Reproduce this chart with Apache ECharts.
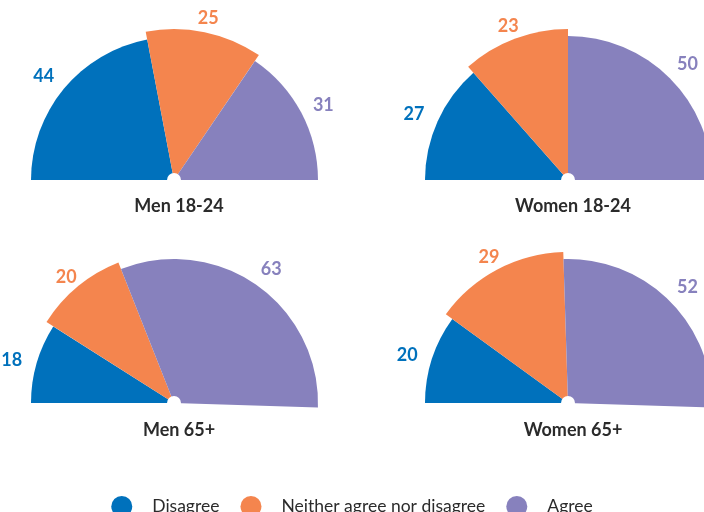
<!DOCTYPE html>
<html>
<head>
<meta charset="utf-8">
<script src="https://cdn.jsdelivr.net/npm/echarts@6/dist/echarts.min.js"></script>
<style>
  html, body { margin: 0; padding: 0; background: #fff; }
  #chart { width: 704px; height: 512px; }
</style>
</head>
<body>
<div id="chart"></div>
<script>
// 数据
const categories = ['Disagree', 'Neither agree nor disagree', 'Agree']
const panelNames = ['Men 18-24', 'Women 18-24', 'Men 65+', 'Women 65+']
const men1824 = [44, 25, 31]
const women1824 = [27, 23, 50]
const men65 = [18, 20, 63]
const women65 = [20, 29, 52]
const panelValues = [men1824, women1824, men65, women65]

// 样式与布局
const colors = ['#0071bc', '#f4854e', '#8781bd']
const centers = [[174, 180], [568, 180], [174, 403], [568, 403]]
const titleTops = [192, 192, 416, 416]
const sliceRadius = [143, 151, 144]
const fontFamily = 'Lato'
const textColor = '#2b2b2b'

// 半圆：100% 对应 180°，补一个透明的填充块
const withFiller = (vals, styleFn) => {
  const sum = vals.reduce((a, b) => a + b, 0)
  const items = vals.map((v, i) => ({ value: v, ...styleFn(i) }))
  items.push({ value: 200 - sum, name: '_filler', itemStyle: { color: 'transparent' }, label: { show: false } })
  return items
}

const series = []
panelValues.forEach((vals, p) => {
  // 每个类别一个系列，半径不同
  categories.forEach((cat, k) => {
    series.push({
      type: 'pie',
      silent: true,
      center: centers[p],
      radius: [0, sliceRadius[k]],
      startAngle: 180,
      clockwise: true,
      avoidLabelOverlap: false,
      label: { show: false },
      labelLine: { show: false },
      data: withFiller(vals, i => ({
        name: i === k ? cat : '_' + i,
        itemStyle: { color: i === k ? colors[i] : 'transparent' }
      }))
    })
  })
  // 数值标签环
  series.push({
    type: 'pie',
    silent: true,
    center: centers[p],
    radius: [158, 174],
    startAngle: 180,
    clockwise: true,
    avoidLabelOverlap: false,
    labelLine: { show: false },
    labelLayout: { dy: 4 },
    data: withFiller(vals, i => ({
      name: '_lbl' + i,
      itemStyle: { color: 'transparent' },
      label: {
        show: true,
        position: 'inside',
        formatter: String(vals[i]),
        color: colors[i],
        fontFamily: fontFamily,
        fontWeight: 'bold',
        fontSize: 18
      }
    }))
  })
  // 中心白点
  series.push({
    type: 'pie',
    silent: true,
    center: centers[p],
    radius: [0, 7],
    label: { show: false },
    labelLine: { show: false },
    data: [{ value: 1, name: '_dot', itemStyle: { color: '#ffffff' } }]
  })
})

const chart = echarts.init(document.getElementById('chart'), null, { renderer: 'canvas' })

chart.setOption({
  animation: false,
  backgroundColor: '#ffffff',
  title: panelNames.map((name, p) => ({
    text: name,
    left: centers[p][0],
    top: titleTops[p],
    textAlign: 'center',
    textStyle: {
      fontFamily: fontFamily,
      fontWeight: 'bold',
      fontSize: 18,
      color: textColor
    }
  })),
  legend: {
    left: 'center',
    top: 491,
    icon: 'circle',
    itemWidth: 21,
    itemHeight: 21,
    itemGap: 21,
    selectedMode: false,
    data: categories.map((c, i) => ({ name: c, itemStyle: { color: colors[i] } })),
    textStyle: {
      fontFamily: fontFamily,
      fontSize: 17.5,
      color: textColor,
      padding: [0, 0, 0, 15]
    }
  },
  series: series
})

window.addEventListener('resize', () => chart.resize())
</script>
</body>
</html>
